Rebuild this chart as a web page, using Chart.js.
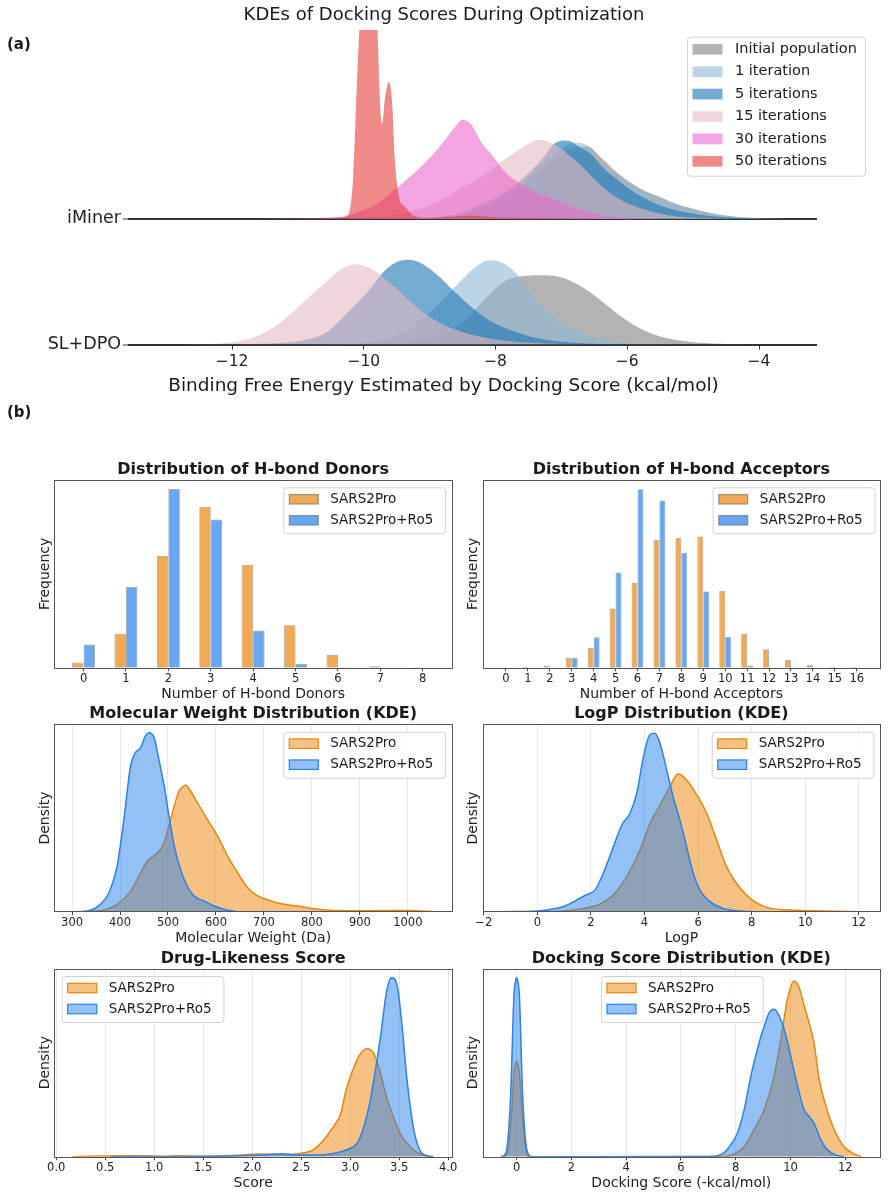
<!DOCTYPE html>
<html><head><meta charset="utf-8">
<script src="https://cdn.jsdelivr.net/npm/chart.js@4.4.1/dist/chart.umd.min.js"></script>
<style>
html,body{margin:0;padding:0;background:#fff;}
#wrap{position:relative;width:888px;height:1198px;overflow:hidden;background:#fff;}
#wrap canvas{position:absolute;left:0;top:0;}
</style></head><body>
<div id="wrap">
<canvas id="cTop" width="888" height="1198"></canvas>
<canvas id="cDon" width="888" height="1198"></canvas>
<canvas id="cAcc" width="888" height="1198"></canvas>
<canvas id="cMW" width="888" height="1198"></canvas>
<canvas id="cLogP" width="888" height="1198"></canvas>
<canvas id="cDrug" width="888" height="1198"></canvas>
<canvas id="cDock" width="888" height="1198"></canvas>
</div>
<script>
// ===================== DATA =====================
const SERIES = ['Initial population','1 iteration','5 iterations','15 iterations','30 iterations','50 iterations'];
const RIDGE_GROUPS = ['SL+DPO','iMiner'];
const RIDGE_TICKS = [-12,-10,-8,-6,-4];

// SL+DPO ridge (density)
const dpoInitX = [-10.4,-9.56,-8.88,-8.48,-8.20,-7.87,-7.53,-7.26,-6.98,-6.65,-6.31,-5.98,-5.64,-5.23,-4.69,-4.01];
const dpoInitY = [0,0.006,0.049,0.144,0.272,0.399,0.437,0.441,0.424,0.356,0.250,0.144,0.070,0.027,0.006,0];
const dpo1X = [-10.9,-10.23,-9.56,-9.23,-8.88,-8.54,-8.27,-8.10,-7.93,-7.66,-7.40,-7.12,-6.85,-6.51,-6.04,-5.51,-5.0];
const dpo1Y = [0,0.004,0.049,0.123,0.250,0.399,0.504,0.536,0.526,0.441,0.293,0.176,0.102,0.049,0.013,0.002,0];
const dpo5X = [-12.2,-11.59,-10.91,-10.57,-10.23,-9.90,-9.70,-9.49,-9.32,-9.15,-8.88,-8.62,-8.34,-8.07,-7.73,-7.33,-6.85,-6.18,-5.6];
const dpo5Y = [0,0.004,0.027,0.076,0.208,0.356,0.462,0.526,0.539,0.521,0.441,0.335,0.229,0.148,0.085,0.038,0.013,0.002,0];
const dpo15X = [-13.3,-12.60,-12.02,-11.59,-11.25,-10.91,-10.57,-10.37,-10.13,-9.90,-9.56,-9.23,-8.88,-8.48,-8.01,-7.53,-6.85,-6.2];
const dpo15Y = [0,0.002,0.013,0.059,0.144,0.272,0.399,0.472,0.511,0.483,0.377,0.250,0.144,0.076,0.032,0.013,0.002,0];

// iMiner ridge (density)
const imInitX = [-9.3,-8.8,-8.5,-8.2,-7.9,-7.59,-7.29,-7.0,-6.8,-6.6,-6.38,-6.17,-5.97,-5.77,-5.51,-5.26,-5.0,-4.64,-4.2,-3.6];
const imInitY = [0,0.013,0.032,0.070,0.127,0.210,0.318,0.407,0.452,0.458,0.382,0.299,0.235,0.184,0.140,0.095,0.064,0.029,0.008,0];
const im1X = [-9.3,-8.8,-8.5,-8.2,-7.9,-7.59,-7.29,-7.0,-6.8,-6.6,-6.38,-6.17,-5.97,-5.77,-5.51,-5.26,-5.0,-4.64,-4.2,-3.6];
const im1Y = [0,0.013,0.032,0.076,0.140,0.229,0.350,0.445,0.483,0.464,0.350,0.280,0.223,0.178,0.134,0.089,0.057,0.025,0.006,0];
const im5X = [-9.3,-8.8,-8.50,-8.20,-7.90,-7.59,-7.29,-7.11,-6.93,-6.68,-6.53,-6.38,-6.17,-5.97,-5.77,-5.51,-5.26,-4.90,-4.39,-3.89];
const im5Y = [0,0.013,0.038,0.095,0.159,0.254,0.382,0.477,0.498,0.445,0.403,0.329,0.254,0.191,0.138,0.085,0.053,0.025,0.006,0];
const im15X = [-10.3,-9.42,-8.97,-8.59,-8.20,-7.95,-7.70,-7.50,-7.34,-7.09,-6.88,-6.68,-6.43,-6.17,-5.92,-5.66,-5.36,-4.90,-4.39];
const im15Y = [0,0.032,0.089,0.178,0.273,0.350,0.424,0.477,0.502,0.466,0.403,0.329,0.223,0.138,0.085,0.049,0.021,0.006,0];
const im30X = [-11.0,-10.49,-10.26,-10.03,-9.80,-9.55,-9.30,-9.04,-8.79,-8.59,-8.51,-8.38,-8.20,-8.05,-7.90,-7.70,-7.44,-7.19,-6.94,-6.68,-6.43,-6.18,-5.77,-5.3];
const im30Y = [0,0.006,0.019,0.051,0.095,0.178,0.267,0.369,0.490,0.598,0.630,0.604,0.477,0.403,0.318,0.244,0.180,0.138,0.095,0.053,0.027,0.011,0.002,0];
const im50X = [-11.8,-10.77,-10.36,-10.24,-10.16,-10.11,-10.06,-10.00,-9.94,-9.87,-9.80,-9.75,-9.72,-9.68,-9.62,-9.57,-9.53,-9.47,-9.37,-9.25,-9.04,-8.70,-8.36,-8.00,-7.50,-7.00,-6.5];
const im50Y = [0,0.004,0.008,0.021,0.273,0.808,1.272,1.653,1.781,1.653,1.272,0.700,0.604,0.763,0.869,0.742,0.382,0.148,0.074,0.021,0.006,0.013,0.019,0.010,0.006,0.003,0];

// Panel (b)
const SET_NAMES = ['SARS2Pro','SARS2Pro+Ro5'];
const donorCats = [0,1,2,3,4,5,6,7,8];
const donorSars = [11,72,237,341,218,90,27,3,1];
const donorRo5  = [49,171,379,314,79,8,1,0,0];
const accCats = [0,1,2,3,4,5,6,7,8,9,10,11,12,13,14,15,16];
const accSars = [0,1,3,14,28,84,120,181,184,186,109,48,26,11,4,1,1];
const accRo5  = [0,0,0,14,43,135,253,237,163,108,44,3,0,0,0,0,0];

const mwTicks = [300,400,500,600,700,800,900,1000];
const mwSarsX = [331,366,394,422,443,457,478,492,502,513,523,533,537,547,561,582,603,624,645,666,687,715,742,770,805,847,917,1004,1056];
const mwSarsY = [0,0.00008,0.00035,0.00098,0.00185,0.00241,0.0028,0.00328,0.00407,0.00502,0.00573,0.00597,0.006,0.00573,0.00518,0.00438,0.0036,0.00265,0.00185,0.00114,0.00075,0.00051,0.00035,0.00027,0.00014,0.00006,0.00005,0.00006,0];
const mwRo5X = [300,331,359,377,394,408,422,432,443,453,460,471,481,492,502,513,526,540,554,575,596,617,645];
const mwRo5Y = [0,0.00003,0.00035,0.0009,0.00217,0.00438,0.00692,0.00755,0.00779,0.00835,0.0085,0.00827,0.00723,0.00597,0.00455,0.00312,0.00201,0.00122,0.00075,0.00051,0.00027,0.00011,0];

const logpTicks = [-2,0,2,4,6,8,10,12];
const logpSarsX = [0,1.09,1.72,2.34,2.84,3.33,3.83,4.20,4.58,4.95,5.26,5.57,5.95,6.32,6.69,7.06,7.44,7.94,8.56,9.43,10.67,12.1];
const logpSarsY = [0,0.002,0.0064,0.015,0.033,0.068,0.12,0.172,0.208,0.244,0.269,0.257,0.228,0.192,0.14,0.088,0.055,0.026,0.0084,0.0033,0.0014,0];
const logpRo5X = [-1.39,0,0.47,1.03,1.47,1.84,2.15,2.46,2.84,3.15,3.46,3.71,3.96,4.20,4.39,4.58,4.83,5.07,5.32,5.57,5.82,6.07,6.44,6.94,7.56,8.06];
const logpRo5Y = [0,0.0014,0.0045,0.011,0.023,0.033,0.042,0.075,0.127,0.169,0.192,0.231,0.302,0.345,0.348,0.328,0.276,0.224,0.179,0.127,0.075,0.042,0.0195,0.0064,0.0014,0];

const drugTicks = [0,0.5,1.0,1.5,2.0,2.5,3.0,3.5,4.0];
const drugSarsX = [0.16,0.45,0.79,1.13,1.23,1.47,1.81,2.08,2.32,2.49,2.62,2.73,2.83,2.90,2.96,3.03,3.10,3.17,3.24,3.31,3.37,3.44,3.51,3.58,3.68,3.78,3.85];
const drugSarsY = [0,0.016,0.023,0.007,0.023,0.007,0.029,0.061,0.052,0.074,0.15,0.376,0.675,0.938,1.5,1.95,2.29,2.42,2.32,1.87,1.35,0.9,0.524,0.3,0.097,0.016,0];
const drugRo5X = [0.55,1.33,1.81,2.15,2.32,2.42,2.66,2.83,2.96,3.07,3.13,3.20,3.27,3.32,3.37,3.42,3.48,3.53,3.58,3.65,3.71,3.78,3.85];
const drugRo5Y = [0,0.007,0.016,0.045,0.068,0.038,0.038,0.074,0.15,0.3,0.6,1.2,2.1,2.85,3.67,4.01,3.83,2.93,1.73,0.6,0.15,0.023,0];

const dockTicks = [0,2,4,6,8,10,12];
const dockSarsX = [-0.46,-0.34,-0.19,-0.10,0,0.10,0.21,0.37,0.51,7.58,7.94,8.31,8.67,9.04,9.40,9.65,9.89,10.13,10.32,10.50,10.68,10.86,11.05,11.30,11.60,11.96,12.33,12.59];
const dockSarsY = [0,0.0093,0.112,0.233,0.266,0.233,0.112,0.0093,0,0.0008,0.0076,0.028,0.075,0.131,0.224,0.327,0.439,0.49,0.471,0.42,0.373,0.317,0.215,0.14,0.075,0.028,0.0076,0];
const dockRo5X = [-0.58,-0.40,-0.22,-0.10,-0.04,0,0.04,0.10,0.22,0.39,0.57,7.0,7.33,7.58,7.82,8.06,8.31,8.55,8.79,9.04,9.22,9.40,9.59,9.77,10.01,10.26,10.50,10.68,10.86,11.11,11.35,11.66,11.96];
const dockRo5Y = [0,0.0093,0.168,0.448,0.49,0.499,0.49,0.448,0.168,0.014,0,0.0008,0.0028,0.0112,0.0328,0.0652,0.131,0.224,0.299,0.364,0.401,0.411,0.392,0.355,0.28,0.196,0.131,0.112,0.093,0.047,0.019,0.0048,0];

// ===================== STYLE / LAYOUT =====================
const FIG_W = 888, FIG_H = 1198;
const FONT = '"DejaVu Sans", sans-serif';
Chart.defaults.font.family = FONT;
Chart.defaults.color = '#222';
const RIDGE_COLORS = ['rgba(128,128,128,0.6)','rgba(143,185,213,0.6)','rgba(31,119,180,0.62)','rgba(230,185,193,0.6)','rgba(233,105,203,0.6)','rgba(228,60,57,0.6)'];
const RIDGE_BASE = {'SL+DPO':0, 'iMiner':0.8};
const ORANGE = [235,133,10], BLUE = [40,130,235];
const rgba = (c,a) => `rgba(${c[0]},${c[1]},${c[2]},${a})`;
const TICK_SIZE = 11.5, AXIS_TITLE_SIZE = 14, TITLE_SIZE = 16;
const GRID_COLOR = 'rgba(176,176,176,0.3)';
const fmtNum = v => (v < 0 ? '\u2212' + Math.abs(v) : String(v));

const DECOR = {};
function roundRect(ctx, x, y, w, h, r) {
  ctx.beginPath();
  ctx.moveTo(x + r, y); ctx.lineTo(x + w - r, y); ctx.arcTo(x + w, y, x + w, y + r, r);
  ctx.lineTo(x + w, y + h - r); ctx.arcTo(x + w, y + h, x + w - r, y + h, r);
  ctx.lineTo(x + r, y + h); ctx.arcTo(x, y + h, x, y + h - r, r);
  ctx.lineTo(x, y + r); ctx.arcTo(x, y, x + r, y, r); ctx.closePath();
}
const decor = {
  id: 'decor',
  afterDatasetsDraw(chart) {
    const d = DECOR[chart.canvas.id]; if (!d || !d.frame) return;
    const ctx = chart.ctx, a = chart.chartArea;
    ctx.save(); ctx.strokeStyle = '#555'; ctx.lineWidth = 1;
    ctx.strokeRect(Math.round(a.left) + 0.5, Math.round(a.top) + 0.5, Math.round(a.right - a.left), Math.round(a.bottom - a.top));
    ctx.restore();
  },
  afterDraw(chart) {
    const d = DECOR[chart.canvas.id]; if (!d) return;
    const ctx = chart.ctx;
    (d.texts || []).forEach(t => {
      ctx.save(); ctx.font = t.font; ctx.fillStyle = '#1a1a1a';
      ctx.textAlign = t.align || 'center'; ctx.textBaseline = 'middle';
      ctx.fillText(t.text, t.x, t.y); ctx.restore();
    });
    const L = d.legend; if (!L) return;
    const seen = new Set(), items = [];
    chart.data.datasets.forEach(ds => { if (!seen.has(ds.label)) { seen.add(ds.label); items.push(ds); } });
    ctx.save();
    roundRect(ctx, L.x + 0.5, L.y + 0.5, L.w, L.h, 3);
    ctx.fillStyle = 'rgba(255,255,255,0.85)'; ctx.fill();
    ctx.strokeStyle = 'rgba(204,204,204,0.9)'; ctx.lineWidth = 1; ctx.stroke();
    ctx.font = L.font; ctx.textBaseline = 'middle'; ctx.textAlign = 'left';
    items.forEach((ds, i) => {
      const cy = L.y + L.first + i * L.step, px = L.x + L.patchX;
      ctx.fillStyle = '#fff'; ctx.fillRect(px, cy - L.patchH / 2, L.patchW, L.patchH);
      ctx.fillStyle = ds.backgroundColor; ctx.fillRect(px, cy - L.patchH / 2, L.patchW, L.patchH);
      if (ds.legendEdge) { ctx.strokeStyle = ds.legendEdge; ctx.lineWidth = 1.2; ctx.strokeRect(px, cy - L.patchH / 2, L.patchW, L.patchH); }
      ctx.fillStyle = '#1a1a1a'; ctx.fillText(ds.label, L.x + L.textX, cy);
    });
    ctx.restore();
  }
};

// ===================== TOP (a) =====================
const ridgeData = {
  'SL+DPO': [[dpoInitX,dpoInitY],[dpo1X,dpo1Y],[dpo5X,dpo5Y],[dpo15X,dpo15Y],null,null],
  'iMiner': [[imInitX,imInitY],[im1X,im1Y],[im5X,im5Y],[im15X,im15Y],[im30X,im30Y],[im50X,im50Y]]
};
const ridgeSets = [];
['iMiner','SL+DPO'].forEach(g => {
  ridgeData[g].forEach((pair, s) => {
    if (!pair) return;
    const base = RIDGE_BASE[g];
    ridgeSets.push({
      label: SERIES[s],
      data: pair[0].map((x, i) => ({x, y: pair[1][i] + base})),
      fill: {value: base}, backgroundColor: RIDGE_COLORS[s],
      borderColor: 'rgba(0,0,0,0)', borderWidth: 0, pointRadius: 0,
      cubicInterpolationMode: 'monotone', order: 10 - s
    });
  });
});
const topBox = {L:128, R:817, T:30, B:344.5, xTitleY:386};
const TOP_XT = 18.5;
const topHx = topBox.xTitleY - topBox.B + 0.6 * TOP_XT;
DECOR.cTop = {
  texts: [
    {text:'KDEs of Docking Scores During Optimization', x:444, y:15, font:`18px ${FONT}`},
    {text:'Binding Free Energy Estimated by Docking Score (kcal/mol)', x:443.5, y:topBox.xTitleY, font:`${TOP_XT}px ${FONT}`},
    {text:'(a)', x:7, y:45, align:'left', font:`bold 15px ${FONT}`},
    {text:'(b)', x:7, y:413, align:'left', font:`bold 15px ${FONT}`}
  ],
  legend: {x:687, y:36.7, w:178, h:139, first:12.6, step:22.4, patchX:5.5, patchW:30, patchH:10.7, textX:48, font:`14.5px ${FONT}`}
};
new Chart(document.getElementById('cTop'), {
  type: 'line',
  data: {datasets: ridgeSets},
  options: {
    responsive:false, animation:false, events:[],
    layout: {padding: {left:0, top:topBox.T, right:FIG_W - topBox.R, bottom:FIG_H - topBox.B - topHx}},
    plugins: {legend:{display:false}, tooltip:{enabled:false}},
    scales: {
      x: {type:'linear', min:-13.58, max:-3.12,
        afterBuildTicks: sc => { sc.ticks = RIDGE_TICKS.map(v => ({value:v})); },
        afterFit: sc => { sc.height = topHx; },
        ticks: {autoSkip:false, maxRotation:0, padding:3, font:{size:15.5}, color:'#222', callback: v => fmtNum(v)},
        grid: {drawOnChartArea:false, drawTicks:true, tickLength:5, color:'#333', tickColor:'#333'},
        border: {display:false},
        title: {display:false}
      },
      y: {type:'linear', min:0, max:2.0, z:1,
        afterBuildTicks: sc => { sc.ticks = RIDGE_GROUPS.map(g => ({value:RIDGE_BASE[g]})); },
        afterFit: sc => { sc.width = topBox.L; },
        ticks: {padding:2, font:{size:17.5}, color:'#222', callback: (v, i) => RIDGE_GROUPS[i]},
        grid: {color:'#333', lineWidth:2, drawTicks:true, tickLength:5, tickColor:'#333', tickWidth:1},
        border: {display:false}
      }
    }
  },
  plugins: [decor]
});

// ===================== PANEL (b) =====================
const ROWS = [{T:480, B:667.7, xTitleY:694, titleY:470}, {T:724.3, B:911.7, xTitleY:938, titleY:714.3}, {T:968.7, B:1156.7, xTitleY:1183.3, titleY:959.3}];
const COLS = [{L:54.3, R:452, yTitleX:45.5}, {L:482.7, R:880, yTitleX:473.5}];

function barSets(cats, a, b) {
  return [
    {label:SET_NAMES[0], data:cats.map((c,i)=>({x:c, y:a[i]})), backgroundColor:rgba(ORANGE,0.7), borderColor:'rgba(90,90,90,0.55)', borderWidth:0.8, borderSkipped:false, legendEdge:'rgba(90,90,90,0.55)', categoryPercentage:0.54, barPercentage:1.0},
    {label:SET_NAMES[1], data:cats.map((c,i)=>({x:c, y:b[i]})), backgroundColor:rgba(BLUE,0.7), borderColor:'rgba(90,90,90,0.55)', borderWidth:0.8, borderSkipped:false, legendEdge:'rgba(90,90,90,0.55)', categoryPercentage:0.54, barPercentage:1.0}
  ];
}
function kdeSets(ax, ay, bx, by) {
  const mk = (label, xs, ys, col, order) => ({label, data:xs.map((x,i)=>({x, y:ys[i]})), fill:'origin',
    backgroundColor:rgba(col,0.5), borderColor:rgba(col,1), legendEdge:rgba(col,1), borderWidth:1.5, pointRadius:0,
    cubicInterpolationMode:'monotone', order});
  return [mk(SET_NAMES[0], ax, ay, ORANGE, 2), mk(SET_NAMES[1], bx, by, BLUE, 1)];
}

function subplot(id, r, c, s) {
  const row = ROWS[r], col = COLS[c];
  const hx = row.xTitleY - row.B + 0.6 * AXIS_TITLE_SIZE;
  const wy = col.L - col.yTitleX + 0.6 * AXIS_TITLE_SIZE;
  const isBar = s.kind === 'bar';
  DECOR[id] = {
    frame: true,
    texts: [{text:s.title, x:(col.L + col.R) / 2, y:row.titleY, font:`bold ${TITLE_SIZE}px ${FONT}`}],
    legend: Object.assign({w:161.7, h:46, first:12, step:21, patchX:6, patchW:29, patchH:9.5, textX:47, font:`13.5px ${FONT}`}, s.legend)
  };
  new Chart(document.getElementById(id), {
    type: isBar ? 'bar' : 'line',
    data: {datasets: s.datasets},
    options: {
      responsive:false, animation:false, events:[],
      layout: {padding: {left:col.L - wy, top:row.T, right:FIG_W - col.R, bottom:FIG_H - row.B - hx}},
      plugins: {legend:{display:false}, tooltip:{enabled:false}},
      scales: {
        x: {type:'linear', min:s.xMin, max:s.xMax, offset:false,
          afterBuildTicks: sc => { sc.ticks = s.ticks.map(v => ({value:v})); },
          afterFit: sc => { sc.height = hx; },
          ticks: {autoSkip:false, maxRotation:0, padding:0.5, font:{size:TICK_SIZE}, color:'#222', callback: s.fmt || (v => fmtNum(v))},
          grid: {display:true, offset:false, drawOnChartArea:!isBar, color:GRID_COLOR, lineWidth:1, drawTicks:true, tickLength:3.5, tickColor:'#444', tickWidth:1},
          border: {display:false},
          title: {display:true, text:s.xTitle, font:{size:AXIS_TITLE_SIZE}, padding:0, color:'#222'}
        },
        y: {type:'linear', min:0, max:s.yMax,
          afterFit: sc => { sc.width = wy; },
          ticks: {display:false}, grid: {display:false}, border: {display:false},
          title: {display:true, text:s.yTitle, font:{size:AXIS_TITLE_SIZE}, padding:0, color:'#222'}
        }
      }
    },
    plugins: [decor]
  });
}

subplot('cDon', 0, 0, {kind:'bar', title:'Distribution of H-bond Donors', xTitle:'Number of H-bond Donors', yTitle:'Frequency',
  xMin:-0.69, xMax:8.69, ticks:donorCats, yMax:398, datasets:barSets(donorCats, donorSars, donorRo5), legend:{x:283.3, y:487.3}});
subplot('cAcc', 0, 1, {kind:'bar', title:'Distribution of H-bond Acceptors', xTitle:'Number of H-bond Acceptors', yTitle:'Frequency',
  xMin:-1.06, xMax:17.06, ticks:accCats, yMax:266, datasets:barSets(accCats, accSars, accRo5), legend:{x:712.7, y:487.3}});
subplot('cMW', 1, 0, {kind:'kde', title:'Molecular Weight Distribution (KDE)', xTitle:'Molecular Weight (Da)', yTitle:'Density',
  xMin:263, xMax:1092, ticks:mwTicks, yMax:0.0089, datasets:kdeSets(mwSarsX, mwSarsY, mwRo5X, mwRo5Y), legend:{x:283.3, y:731.7}});
subplot('cLogP', 1, 1, {kind:'kde', title:'LogP Distribution (KDE)', xTitle:'LogP', yTitle:'Density',
  xMin:-2.04, xMax:12.79, ticks:logpTicks, yMax:0.3654, datasets:kdeSets(logpSarsX, logpSarsY, logpRo5X, logpRo5Y), legend:{x:711.7, y:731.7}});
subplot('cDrug', 2, 0, {kind:'kde', title:'Drug-Likeness Score', xTitle:'Score', yTitle:'Density',
  xMin:-0.02, xMax:4.04, ticks:drugTicks, fmt: v => v.toFixed(1), yMax:4.21, datasets:kdeSets(drugSarsX, drugSarsY, drugRo5X, drugRo5Y), legend:{x:61.7, y:976}});
subplot('cDock', 2, 1, {kind:'kde', title:'Docking Score Distribution (KDE)', xTitle:'Docking Score (-kcal/mol)', yTitle:'Density',
  xMin:-1.24, xMax:13.27, ticks:dockTicks, yMax:0.524, datasets:kdeSets(dockSarsX, dockSarsY, dockRo5X, dockRo5Y), legend:{x:601, y:976}});
</script>
</body></html>
